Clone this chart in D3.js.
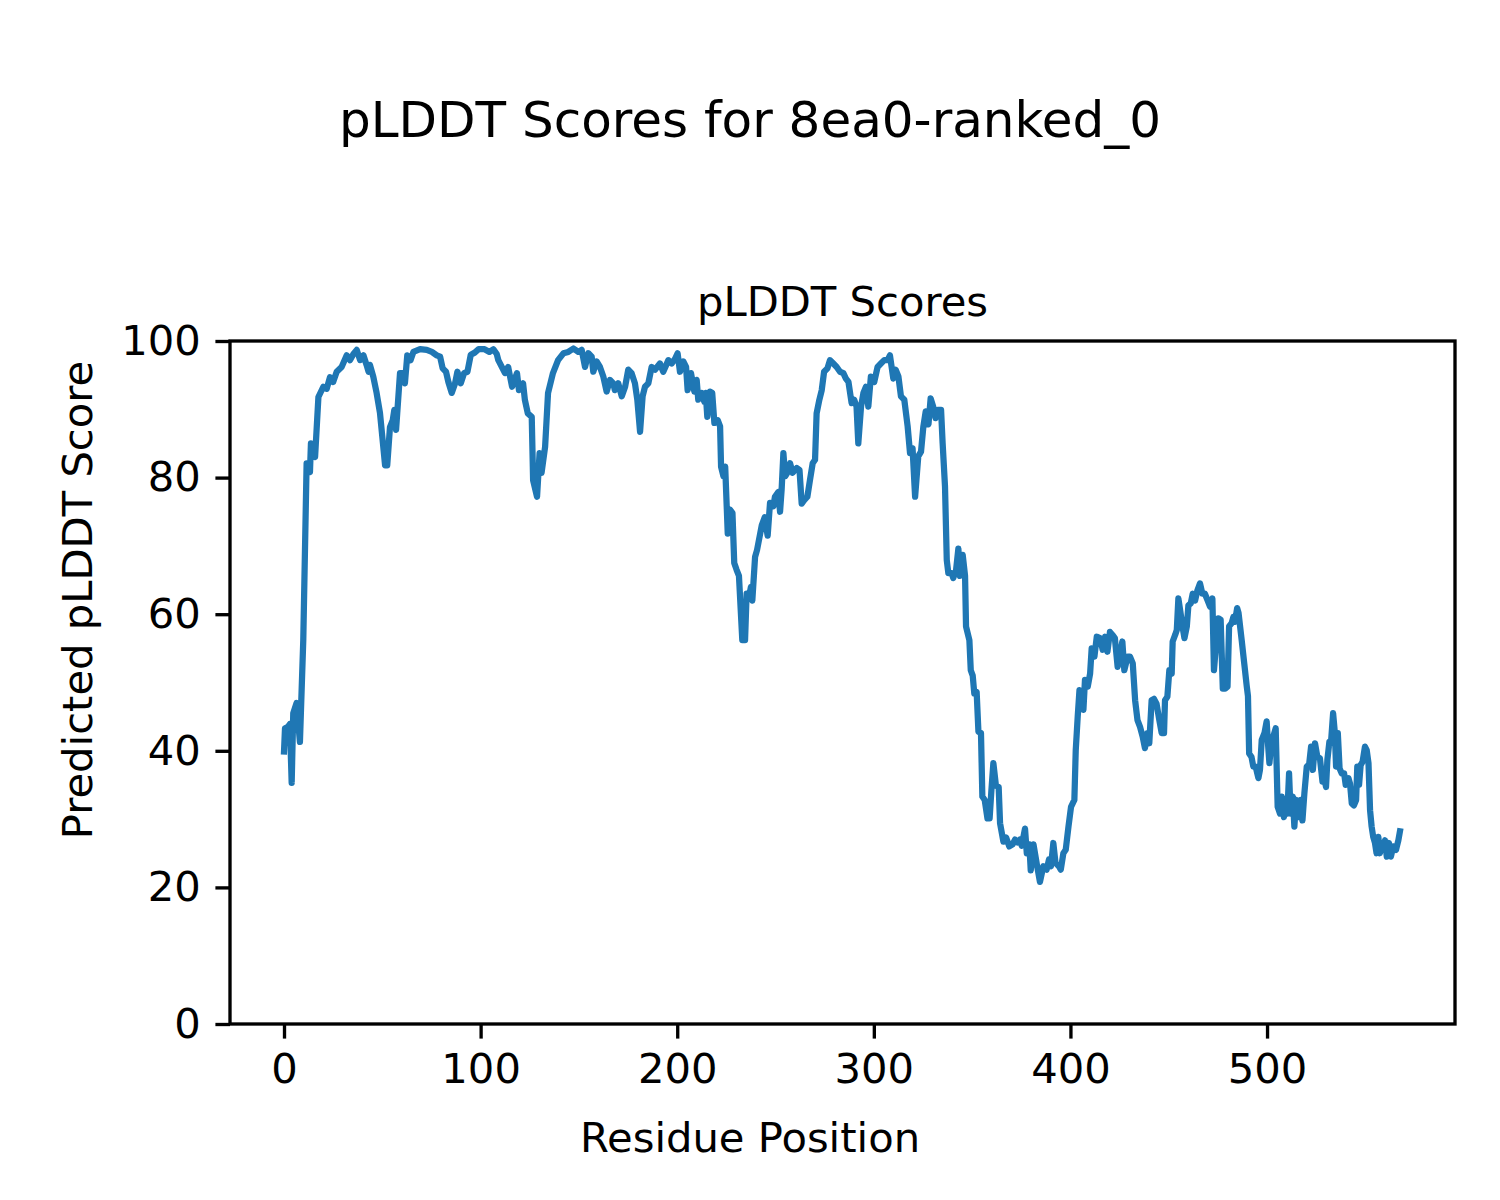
<!DOCTYPE html>
<html>
<head>
<meta charset="utf-8">
<script src="https://cdn.jsdelivr.net/npm/d3@7"></script>
<style>
  html, body { margin: 0; padding: 0; background: #ffffff; }
  svg { display: block; }
  text { font-family: "DejaVu Sans", sans-serif; fill: #000; }
</style>
</head>
<body>
<svg id="chart" width="1500" height="1200"></svg>
<script>
// ---- Data ----
const positions = [
  0.0, 0.5, 2.0, 3.0, 3.9, 4.7, 6.4, 8.1, 9.8, 11.5, 13.2, 13.7, 15.8, 17.5, 20.0, 21.7, 23.4, 25.0, 26.8, 29.3,
  31.9, 33.6, 35.3, 37.0, 38.7, 40.4, 42.0, 43.0, 43.7, 45.4, 47.1, 48.8, 50.5, 51.4, 52.5, 53.9, 55.3, 56.1, 57.0, 59.0,
  60.7, 61.5, 62.7, 64.4, 65.8, 69.2, 72.6, 75.2, 77.7, 79.4, 80.7, 82.4, 83.6, 85.3, 87.0, 88.2, 89.9, 91.6, 93.3, 95.0,
  97.0, 99.0, 102.0, 104.5, 106.5, 108.2, 109.0, 112.4, 114.0, 116.0, 118.5, 119.5, 121.6, 122.5, 124.0, 126.0, 126.7, 128.7, 130.0, 131.0,
  132.8, 134.3, 136.8, 139.4, 142.1, 144.6, 147.2, 149.7, 151.4, 153.1, 154.8, 156.5, 157.3, 159.0, 160.7, 162.4, 164.1, 165.8, 167.5, 168.3,
  170.0, 171.8, 173.5, 175.1, 176.8, 178.5, 179.7, 181.1, 182.4, 183.6, 185.3, 187.0, 188.7, 191.2, 192.9, 195.5, 197.2, 198.9, 200.2, 201.4,
  203.1, 204.5, 205.3, 207.0, 208.7, 209.9, 210.7, 212.4, 213.8, 214.5, 215.3, 216.7, 217.8, 218.9, 220.6, 221.8, 222.3, 223.5, 224.4, 225.7,
  226.9, 228.1, 229.0, 230.2, 231.4, 233.1, 234.5, 235.3, 236.5, 237.5, 238.2, 239.6, 240.6, 243.0, 244.5, 246.0, 247.2, 248.9, 249.7, 251.4,
  252.3, 253.1, 254.0, 254.9, 256.0, 257.4, 258.7, 260.8, 262.2, 263.3, 264.6, 266.2, 267.5, 268.9, 270.1, 270.9, 272.3, 273.5, 274.7, 276.4,
  277.7, 279.4, 281.1, 282.8, 284.5, 285.8, 287.1, 288.7, 290.0, 291.2, 292.1, 293.5, 294.7, 296.0, 297.2, 298.5, 300.2, 301.9, 303.6, 305.3,
  307.0, 308.2, 309.9, 311.1, 312.5, 313.8, 315.5, 317.2, 318.4, 319.7, 321.0, 322.6, 324.0, 325.2, 326.4, 327.8, 328.9, 330.2, 331.4, 332.5,
  334.2, 335.0, 336.2, 337.1, 337.9, 339.6, 340.4, 341.8, 343.0, 343.8, 345.2, 346.4, 346.9, 348.6, 349.3, 350.3, 351.1, 352.3, 353.2, 354.5,
  355.2, 356.4, 357.8, 358.9, 359.8, 360.8, 362.1, 363.5, 364.2, 365.9, 367.3, 368.9, 370.6, 371.8, 373.0, 374.3, 375.2, 376.9, 377.8, 379.1,
  379.8, 381.2, 382.9, 384.5, 386.2, 387.9, 389.1, 390.1, 391.3, 392.4, 394.1, 395.1, 396.4, 397.6, 399.0, 400.3, 402.0, 402.7, 403.7, 404.6,
  405.7, 406.6, 407.4, 408.8, 410.0, 410.8, 412.2, 413.4, 415.1, 416.4, 417.6, 418.8, 420.1, 421.3, 422.6, 424.0, 425.2, 426.4, 427.4, 429.1,
  430.3, 431.7, 432.9, 434.1, 435.4, 436.7, 437.9, 439.1, 440.1, 441.3, 442.5, 443.8, 445.2, 446.4, 447.6, 448.1, 449.3, 450.3, 451.5, 452.0,
  453.3, 454.1, 454.9, 455.8, 457.0, 458.0, 459.2, 460.0, 461.2, 462.2, 463.4, 464.6, 465.9, 467.1, 468.4, 469.8, 471.0, 472.2, 473.0, 474.1,
  475.2, 476.4, 477.5, 478.7, 479.9, 480.7, 482.0, 482.9, 483.7, 484.8, 485.5, 487.1, 488.4, 489.7, 490.3, 490.9, 492.1, 493.0, 494.2, 495.6,
  496.4, 497.3, 498.7, 499.8, 500.6, 501.2, 502.0, 503.2, 504.4, 505.4, 506.6, 507.5, 508.6, 509.4, 510.3, 511.2, 512.0, 513.1, 513.9, 514.8,
  516.0, 517.2, 518.0, 519.0, 520.2, 521.4, 522.4, 523.3, 524.4, 525.6, 526.9, 528.2, 529.3, 530.0, 530.7, 531.7, 532.5, 533.6, 534.5, 535.1,
  536.0, 536.9, 538.0, 539.2, 540.0, 541.4, 542.2, 543.1, 544.2, 545.3, 545.9, 546.8, 547.6, 548.6, 549.8, 550.7, 551.6, 552.4, 553.2, 554.0,
  554.9, 555.7, 556.6, 557.4, 558.3, 559.1, 560.0, 560.9, 562.0, 563.0, 564.2, 565.6, 566.8, 567.6
];
const scores = [
  39.9, 43.3, 43.5, 43.9, 35.3, 45.5, 47.0, 41.3, 56.2, 82.1, 80.8, 85.0, 83.0, 91.8, 93.3, 93.0, 94.7, 94.0, 95.5, 96.2,
  97.9, 97.2, 98.1, 98.7, 97.2, 97.9, 96.5, 95.5, 96.5, 94.8, 92.4, 89.5, 84.5, 81.8, 81.8, 87.4, 88.4, 89.9, 87.0, 95.3,
  95.3, 93.8, 97.9, 97.2, 98.4, 98.8, 98.7, 98.4, 97.9, 97.7, 96.0, 95.5, 94.0, 92.4, 93.8, 95.5, 93.8, 95.3, 95.5, 98.0,
  98.3, 98.8, 98.8, 98.4, 98.8, 98.1, 97.2, 95.3, 96.2, 93.3, 95.3, 92.8, 93.8, 91.4, 89.4, 88.9, 79.6, 77.2, 83.6, 80.7,
  84.5, 92.4, 95.3, 97.2, 98.2, 98.4, 98.9, 98.4, 98.7, 96.2, 98.2, 97.7, 95.5, 97.0, 96.2, 94.8, 92.6, 94.3, 93.8, 92.8,
  93.8, 91.9, 93.3, 95.8, 95.3, 93.8, 91.4, 86.7, 91.9, 93.3, 93.8, 96.2, 95.8, 96.7, 95.5, 97.2, 96.7, 97.4, 98.2, 95.5,
  97.0, 96.2, 92.8, 95.3, 92.6, 94.3, 91.4, 92.4, 91.1, 92.4, 88.9, 92.6, 92.4, 88.0, 88.4, 87.5, 81.6, 80.2, 81.6, 71.8,
  75.3, 74.8, 67.5, 66.5, 65.6, 56.2, 56.2, 63.0, 62.5, 64.0, 62.0, 68.4, 69.4, 73.0, 74.2, 71.5, 76.3, 75.8, 77.2, 77.9,
  75.0, 78.2, 83.6, 80.2, 80.7, 82.1, 80.7, 81.4, 81.1, 76.2, 76.7, 77.2, 79.6, 82.1, 82.6, 89.4, 91.4, 92.8, 95.5, 96.0,
  97.2, 96.7, 96.2, 95.5, 95.3, 94.5, 94.0, 90.9, 91.4, 90.4, 85.0, 90.4, 92.4, 93.3, 90.4, 94.8, 94.0, 96.2, 96.7, 97.2,
  97.2, 97.9, 94.5, 95.8, 94.8, 91.9, 91.4, 87.5, 83.6, 84.3, 77.2, 83.1, 83.8, 87.5, 89.7, 87.8, 91.6, 90.4, 88.7, 89.9,
  89.9, 85.0, 78.7, 67.9, 66.0, 66.0, 65.3, 66.4, 69.6, 65.6, 68.7, 65.6, 58.2, 56.2, 51.8, 51.0, 48.4, 48.6, 42.8, 42.6,
  33.3, 32.8, 30.1, 30.1, 34.2, 38.2, 34.9, 34.7, 29.4, 26.7, 27.3, 26.0, 26.3, 27.0, 26.6, 27.0, 26.1, 28.6, 25.0, 26.3,
  22.5, 26.3, 23.4, 20.8, 23.1, 22.6, 24.1, 23.1, 26.5, 23.6, 23.1, 22.6, 25.0, 25.5, 28.9, 31.8, 32.8, 40.1, 45.0, 48.9,
  47.5, 46.0, 50.4, 49.4, 51.3, 55.0, 53.8, 56.7, 56.5, 54.8, 56.7, 54.5, 57.4, 57.0, 56.5, 52.3, 53.8, 56.0, 51.8, 53.8,
  53.8, 52.8, 47.4, 44.5, 43.5, 42.1, 40.4, 42.6, 41.1, 47.4, 47.6, 46.9, 44.5, 42.6, 42.6, 47.4, 47.9, 51.8, 51.3, 56.0,
  57.0, 57.7, 62.3, 60.6, 58.2, 56.5, 58.2, 61.3, 61.6, 63.0, 62.0, 63.5, 64.5, 63.0, 63.0, 62.0, 61.1, 62.3, 51.8, 55.7,
  59.4, 59.2, 49.1, 49.1, 49.4, 58.2, 58.7, 59.6, 58.9, 60.9, 60.2, 56.2, 52.8, 49.4, 48.0, 39.6, 39.1, 37.7, 37.7, 36.0,
  37.2, 41.6, 42.6, 44.3, 40.6, 38.2, 40.6, 42.1, 43.3, 31.8, 30.8, 33.3, 30.3, 32.8, 30.8, 36.7, 30.8, 33.3, 28.9, 32.8,
  30.3, 32.8, 29.8, 33.8, 37.7, 38.0, 40.6, 37.2, 41.1, 39.1, 38.9, 35.5, 35.7, 34.7, 38.7, 41.3, 41.1, 45.5, 42.6, 37.7,
  42.6, 37.4, 36.7, 36.7, 35.0, 36.0, 35.2, 32.3, 32.0, 32.8, 37.7, 35.0, 37.9, 38.4, 40.6, 40.1, 38.2, 31.3, 28.9, 27.4,
  26.5, 25.0, 27.4, 25.0, 26.5, 25.5, 26.9, 24.5, 26.5, 24.5, 26.0, 25.5, 26.9, 28.2
];
const xTicks = [0, 100, 200, 300, 400, 500];
const yTicks = [0, 20, 40, 60, 80, 100];
const figTitle = "pLDDT Scores for 8ea0-ranked_0";
const axTitle = "pLDDT Scores";
const xLabel = "Residue Position";
const yLabel = "Predicted pLDDT Score";

// ---- Layout ----
const W = 1500, H = 1200;
const plot = { left: 230, right: 1455, top: 341, bottom: 1024 };
const fs = 41.7;      // 10pt at 300 dpi
const fsBig = 50;     // 12pt at 300 dpi
const tickLen = 14.6, tickPad = 14.6;

const svg = d3.select("#chart");
svg.append("rect").attr("width", W).attr("height", H).attr("fill", "#fff");

const x = d3.scaleLinear().domain([-27.47, 595.6]).range([plot.left, plot.right]);
const y = d3.scaleLinear().domain([0, 100]).range([plot.bottom, plot.top]);

const data = positions.map((p, i) => ({ x: p, y: scores[i] }));

// line
const clipId = "plotclip";
svg.append("clipPath").attr("id", clipId).append("rect")
  .attr("x", plot.left).attr("y", plot.top)
  .attr("width", plot.right - plot.left).attr("height", plot.bottom - plot.top);

svg.append("path")
  .datum(data)
  .attr("clip-path", `url(#${clipId})`)
  .attr("fill", "none")
  .attr("stroke", "#1f77b4")
  .attr("stroke-width", 6.25)
  .attr("stroke-linejoin", "round")
  .attr("stroke-linecap", "square")
  .attr("d", d3.line().x(d => x(d.x)).y(d => y(d.y)));

// axes
const xAxis = d3.axisBottom(x).tickValues(xTicks).tickFormat(d3.format("d"))
  .tickSize(tickLen).tickPadding(tickPad).tickSizeOuter(0);
const yAxis = d3.axisLeft(y).tickValues(yTicks).tickFormat(d3.format("d"))
  .tickSize(tickLen).tickPadding(tickPad).tickSizeOuter(0);

const gx = svg.append("g").attr("transform", `translate(0,${plot.bottom})`).call(xAxis);
const gy = svg.append("g").attr("transform", `translate(${plot.left},0)`).call(yAxis);
[gx, gy].forEach(g => {
  g.select(".domain").remove();
  g.selectAll(".tick line").attr("stroke", "#000").attr("stroke-width", 3.33);
  g.selectAll(".tick text")
    .attr("font-family", "DejaVu Sans, sans-serif")
    .attr("font-size", fs)
    .attr("fill", "#000");
});

// frame
svg.append("rect")
  .attr("x", plot.left).attr("y", plot.top)
  .attr("width", plot.right - plot.left).attr("height", plot.bottom - plot.top)
  .attr("fill", "none").attr("stroke", "#000").attr("stroke-width", 3.33)
  .attr("stroke-linejoin", "miter");

// texts
svg.append("text").attr("x", 750).attr("y", 137)
  .attr("text-anchor", "middle").attr("font-size", fsBig).text(figTitle);
svg.append("text").attr("x", (plot.left + plot.right) / 2).attr("y", 316)
  .attr("text-anchor", "middle").attr("font-size", fs).text(axTitle);
svg.append("text").attr("x", 750).attr("y", 1152)
  .attr("text-anchor", "middle").attr("font-size", fs).text(xLabel);
svg.append("text").attr("transform", "translate(92,600) rotate(-90)")
  .attr("text-anchor", "middle").attr("font-size", fs).text(yLabel);
</script>
</body>
</html>
